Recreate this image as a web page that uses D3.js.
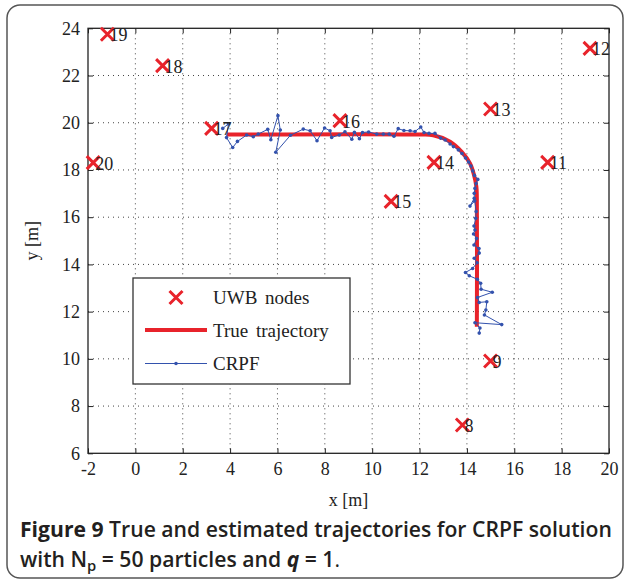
<!DOCTYPE html>
<html>
<head>
<meta charset="utf-8">
<script src="https://cdn.jsdelivr.net/npm/d3@7"></script>
<style>
  html, body { margin: 0; padding: 0; background: #fff; }
  svg { display: block; }
  .tick text { font-family: "Liberation Serif", "Times New Roman", serif; font-size: 18px; fill: #222; }
</style>
</head>
<body>
<div id="chart"></div>
<script>
// UWB anchor nodes
const nodeIds = [8, 9, 11, 12, 13, 14, 15, 16, 17, 18, 19, 20];
const nodeX = [13.81, 15.0, 17.41, 19.2, 15.0, 12.61, 10.8, 8.64, 3.22, 1.15, -1.18, -1.78];
const nodeY = [7.2, 9.91, 18.32, 23.15, 20.58, 18.32, 16.67, 20.09, 19.76, 22.42, 23.75, 18.31];

// true trajectory (read along the path)
const trueX = [3.86, 12.0, 12.58, 13.29, 13.78, 14.13, 14.30, 14.40, 14.42, 14.42];
const trueY = [19.5, 19.5, 19.47, 19.2, 18.77, 18.28, 17.79, 17.29, 16.8, 11.36];

// CRPF estimate
const crpfX = [3.69, 3.93, 3.85, 4.11, 4.31, 4.70, 4.98, 5.19, 5.59, 5.72, 6.02, 6.12, 5.93, 6.55, 7.09, 7.38, 7.67, 7.99, 8.22, 8.29,
  8.61, 8.85, 9.14, 9.25, 9.46, 9.59, 9.85, 10.19, 10.47, 10.72, 10.92, 11.10, 11.34, 11.60, 11.81, 12.05, 12.19, 12.40, 12.65, 12.89,
  13.08, 13.29, 13.43, 13.64, 13.79, 13.94, 14.07, 14.17, 14.25, 14.32, 14.46, 14.39, 14.34, 14.31, 14.31, 14.13, 14.33, 14.39, 14.37, 14.30,
  14.34, 14.28, 14.41, 14.30, 14.51, 14.52, 14.31, 14.43, 14.24, 13.94, 14.10, 14.44, 14.58, 14.60, 15.07, 14.45, 14.52, 14.84, 14.80, 14.74,
  15.47, 14.34, 14.55, 14.52];
const crpfY = [19.76, 19.95, 19.37, 18.95, 19.21, 19.48, 19.41, 19.52, 19.72, 19.28, 20.30, 19.69, 18.75, 19.47, 19.73, 19.66, 19.24, 19.78, 19.66, 19.38,
  19.48, 19.62, 19.30, 19.60, 19.32, 19.59, 19.61, 19.52, 19.52, 19.52, 19.43, 19.75, 19.67, 19.66, 19.63, 19.82, 19.59, 19.55, 19.55, 19.35,
  19.27, 19.10, 18.99, 18.85, 18.70, 18.51, 18.34, 18.17, 17.96, 17.77, 17.60, 17.43, 17.22, 17.01, 16.80, 16.47, 16.69, 16.24, 15.95, 15.63,
  15.46, 15.29, 15.10, 14.82, 14.67, 14.48, 14.26, 14.07, 13.83, 13.66, 13.52, 13.37, 13.20, 12.95, 12.82, 12.60, 12.39, 12.42, 12.07, 11.86,
  11.45, 11.53, 11.31, 11.09];

const xTicks = [-2, 0, 2, 4, 6, 8, 10, 12, 14, 16, 18, 20];
const yTicks = [6, 8, 10, 12, 14, 16, 18, 20, 22, 24];

const red = '#e8232b';
const blue = '#3352ad';
const serif = '"Liberation Serif", "Times New Roman", serif';

const W = 625, H = 583;
const margin = { left: 88, top: 28.3, right: 609, bottom: 453.3 };

const svg = d3.select('#chart').append('svg').attr('width', W).attr('height', H);

// outer frame
svg.append('rect')
  .attr('x', 7).attr('y', 5).attr('width', 616).attr('height', 573)
  .attr('rx', 13).attr('fill', 'none').attr('stroke', '#555').attr('stroke-width', 1.5);

const x = d3.scaleLinear().domain([-2, 20]).range([margin.left, margin.right]);
const y = d3.scaleLinear().domain([6, 24]).range([margin.bottom, margin.top]);

// grid
const grid = svg.append('g').attr('stroke', '#444').attr('stroke-width', 1).attr('stroke-dasharray', '1,4');
grid.selectAll('line.gx').data(xTicks.slice(1, -1)).enter().append('line')
  .attr('x1', (d) => x(d)).attr('x2', (d) => x(d))
  .attr('y1', margin.top).attr('y2', margin.bottom);
grid.selectAll('line.gy').data(yTicks.slice(1, -1)).enter().append('line')
  .attr('y1', (d) => y(d)).attr('y2', (d) => y(d))
  .attr('x1', margin.left).attr('x2', margin.right);

// axes, ticks inside like matlab
const fmt = (d) => String(d);
const axes = [
  svg.append('g').attr('transform', `translate(0,${margin.bottom})`)
    .call(d3.axisBottom(x).tickValues(xTicks).tickSize(-5).tickPadding(9).tickFormat(fmt)),
  svg.append('g').attr('transform', `translate(0,${margin.top})`)
    .call(d3.axisTop(x).tickValues(xTicks).tickSize(-5).tickFormat('')),
  svg.append('g').attr('transform', `translate(${margin.left},0)`)
    .call(d3.axisLeft(y).tickValues(yTicks).tickSize(-5).tickPadding(8).tickFormat(fmt)),
  svg.append('g').attr('transform', `translate(${margin.right},0)`)
    .call(d3.axisRight(y).tickValues(yTicks).tickSize(-5).tickFormat(''))
];
axes.forEach((a) => {
  a.select('.domain').remove();
  a.selectAll('.tick line').attr('stroke', '#222').attr('stroke-width', 1);
});

svg.append('rect')
  .attr('x', margin.left).attr('y', margin.top)
  .attr('width', margin.right - margin.left).attr('height', margin.bottom - margin.top)
  .attr('fill', 'none').attr('stroke', '#222').attr('stroke-width', 1.3);

// axis labels
svg.append('text').text('x [m]')
  .attr('x', (margin.left + margin.right) / 2).attr('y', 506)
  .attr('text-anchor', 'middle').attr('font-family', serif).attr('font-size', 18).attr('fill', '#222');
svg.append('text').text('y [m]')
  .attr('transform', `translate(38,${(margin.top + margin.bottom) / 2}) rotate(-90)`)
  .attr('text-anchor', 'middle').attr('font-family', serif).attr('font-size', 18).attr('fill', '#222');

const plot = svg.append('g');

// true trajectory
const truePts = trueX.map((d, i) => [d, trueY[i]]);
plot.append('path')
  .attr('d', d3.line().x((d) => x(d[0])).y((d) => y(d[1])).curve(d3.curveCatmullRom.alpha(0.5))(truePts))
  .attr('fill', 'none').attr('stroke', red).attr('stroke-width', 4);

// CRPF estimate
const crpfPts = crpfX.map((d, i) => [d, crpfY[i]]);
plot.append('path')
  .attr('d', d3.line().x((d) => x(d[0])).y((d) => y(d[1]))(crpfPts))
  .attr('fill', 'none').attr('stroke', blue).attr('stroke-width', 1);
plot.selectAll('circle.crpf').data(crpfPts).enter().append('circle')
  .attr('cx', (d) => x(d[0])).attr('cy', (d) => y(d[1])).attr('r', 1.8).attr('fill', blue);

// nodes
const cross = (g, cx, cy, s) => {
  g.append('path')
    .attr('d', `M${cx - s},${cy - s}L${cx + s},${cy + s}M${cx - s},${cy + s}L${cx + s},${cy - s}`)
    .attr('stroke', red).attr('stroke-width', 3).attr('fill', 'none');
};
nodeIds.forEach((id, i) => {
  const cx = x(nodeX[i]), cy = y(nodeY[i]);
  cross(plot, cx, cy, 6.5);
  plot.append('text').text(id)
    .attr('x', cx + 2).attr('y', cy + 7)
    .attr('font-family', serif).attr('font-size', 18).attr('fill', '#222');
});

// legend
const lg = svg.append('g');
lg.append('rect').attr('x', 133).attr('y', 278).attr('width', 217).attr('height', 106)
  .attr('fill', '#fff').attr('stroke', '#333').attr('stroke-width', 1.3);
cross(lg, 176, 297.5, 6.5);
lg.append('line').attr('x1', 145).attr('x2', 207).attr('y1', 330).attr('y2', 330)
  .attr('stroke', red).attr('stroke-width', 4);
lg.append('line').attr('x1', 145).attr('x2', 207).attr('y1', 363.5).attr('y2', 363.5)
  .attr('stroke', blue).attr('stroke-width', 1);
lg.append('circle').attr('cx', 176).attr('cy', 363.5).attr('r', 1.8).attr('fill', blue);
[['UWB nodes', 304], ['True trajectory', 337], ['CRPF', 370]].forEach(([t, ty]) => {
  lg.append('text').text(t).attr('x', 213).attr('y', ty)
    .attr('font-family', serif).attr('font-size', 19).attr('word-spacing', 3).attr('fill', '#222');
});

// caption
const cap = svg.append('g').attr('font-family', '"Open Sans", "Noto Sans", sans-serif').attr('fill', '#231f20');
const l1 = cap.append('text').attr('x', 20).attr('y', 537).attr('font-size', 19).attr('font-weight', 600);
l1.append('tspan').text('Figure 9').attr('font-weight', 'bold');
l1.append('tspan').text(' True and estimated trajectories for CRPF solution');
const w1 = l1.node().getComputedTextLength();
const fs = 19 * 592 / w1;
l1.attr('font-size', fs);

const l2 = cap.append('text').attr('x', 20).attr('y', 567).attr('font-size', fs).attr('font-weight', 600);
l2.append('tspan').text('with N');
l2.append('tspan').text('p').attr('font-size', fs * 0.7).attr('dy', 4);
l2.append('tspan').text(' = 50 particles and ').attr('dy', -4);
l2.append('tspan').text('q').attr('font-style', 'italic').attr('font-weight', 'bold');
l2.append('tspan').text(' = 1');
l2.append('tspan').text('.').attr('font-weight', 'normal');
</script>
</body>
</html>
